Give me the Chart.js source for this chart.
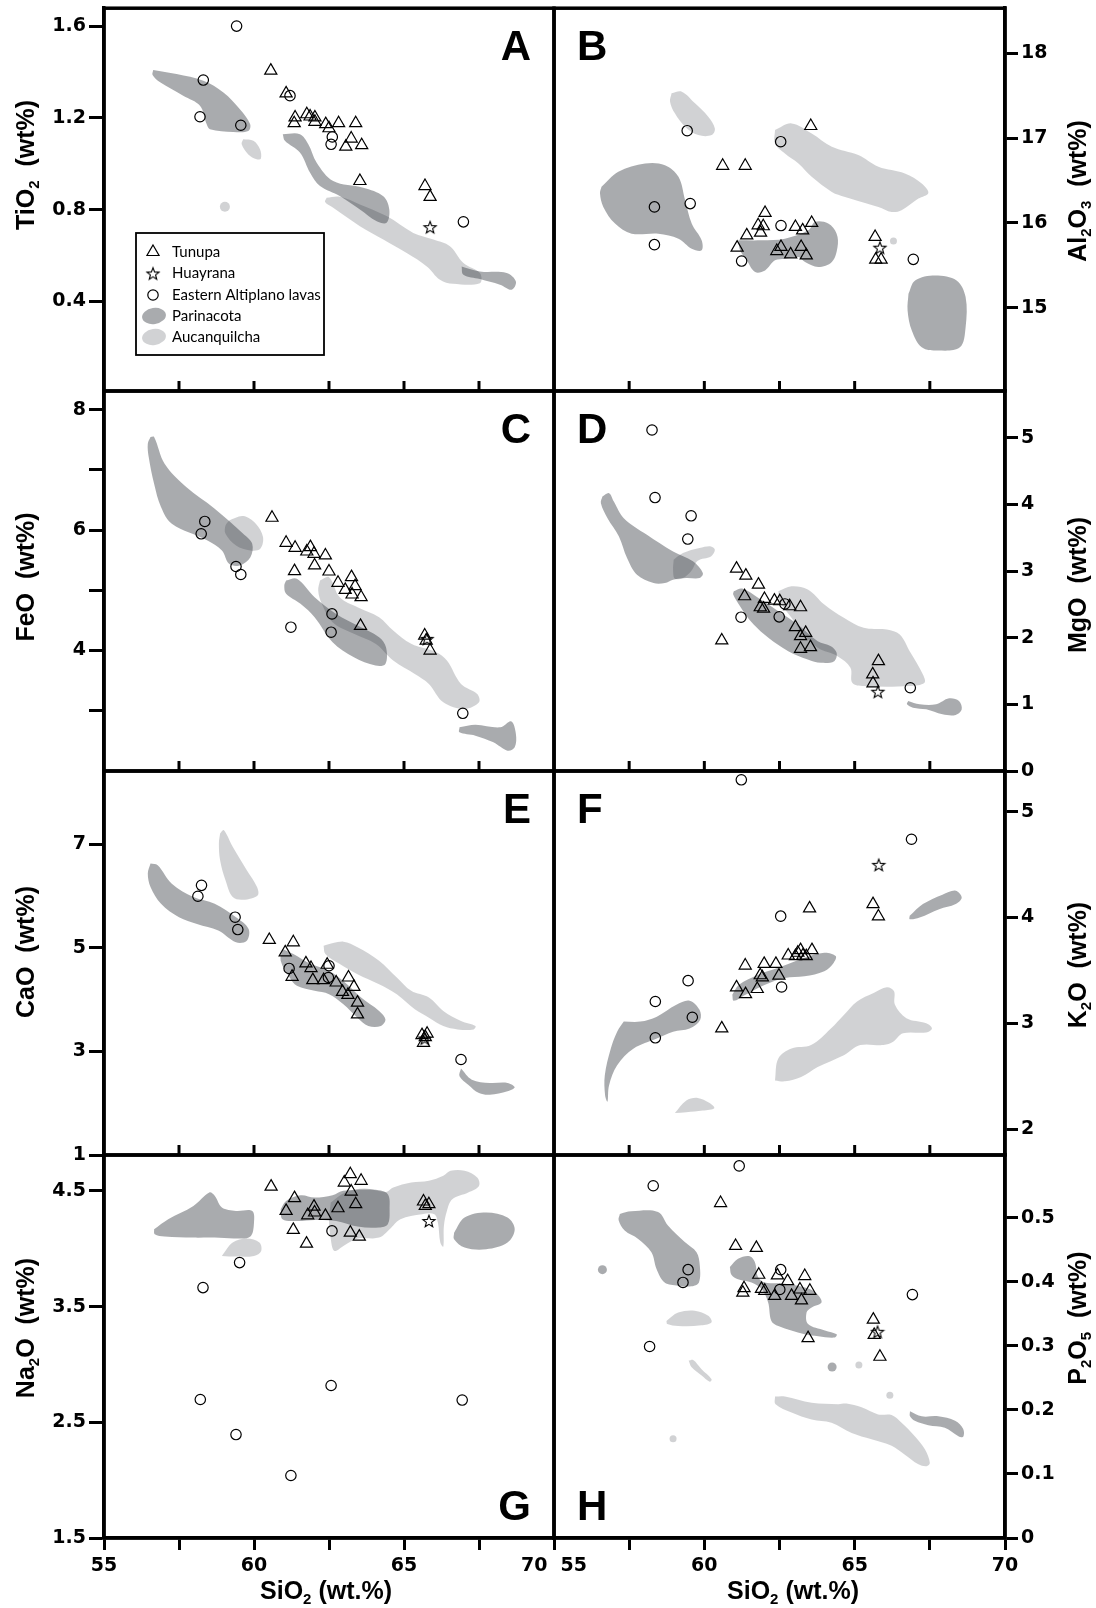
<!DOCTYPE html>
<html>
<head>
<meta charset="utf-8">
<title>SiO2 variation diagrams</title>
<script src="https://cdn.jsdelivr.net/npm/chart.js@4.4.1/dist/chart.umd.min.js"></script>
<style>
  body { margin: 0; background: #fff; }
  #wrap { position: relative; width: 1096px; height: 1608px; overflow: hidden; }
  #wrap canvas { position: absolute; left: 0; top: 0; }
</style>
</head>
<body>
<div id="wrap">
  <canvas id="panelA" width="1096" height="1608"></canvas>
  <canvas id="panelB" width="1096" height="1608"></canvas>
  <canvas id="panelC" width="1096" height="1608"></canvas>
  <canvas id="panelD" width="1096" height="1608"></canvas>
  <canvas id="panelE" width="1096" height="1608"></canvas>
  <canvas id="panelF" width="1096" height="1608"></canvas>
  <canvas id="panelG" width="1096" height="1608"></canvas>
  <canvas id="panelH" width="1096" height="1608"></canvas>
</div>
<script>
// ---- data: [SiO2, oxide] pairs ----
const xTicks = [55, 57.5, 60, 62.5, 65, 67.5, 70];
const xLabels = ['55', '', '60', '', '65', '', '70'];
const innerTicks = [57.5, 60, 62.5, 65, 67.5];
const legendNames = ['Tunupa', 'Huayrana', 'Eastern Altiplano lavas', 'Parinacota', 'Aucanquilcha'];

// A - TiO2
const ticksA = [0.4, 0.8, 1.2, 1.6];
const labelsA = ['0.4', '0.8', '1.2', '1.6'];
const tunupaA = [[60.56,1.406],[61.07,1.307],[61.37,1.202],[61.34,1.177],[61.76,1.216],[61.87,1.206],[62.03,1.202],[62.03,1.183],[62.39,1.173],[62.5,1.155],[62.82,1.177],[63.39,1.177],[63.24,1.11],[63.06,1.075],[63.59,1.081],[63.53,0.925],[65.7,0.903],[65.87,0.856]];
const huayranaA = [[65.87,0.724]];
const easternA = [[59.42,1.6],[58.31,1.365],[58.2,1.205],[59.56,1.168],[61.2,1.297],[62.61,1.117],[62.57,1.085],[66.98,0.747]];
const parinacotaA = [
  [[56.64,1.409],[57.42,1.391],[58.31,1.362],[58.98,1.311],[59.53,1.238],[59.87,1.173],[59.81,1.143],[59.31,1.139],[58.53,1.151],[58.42,1.173],[58.2,1.253],[57.64,1.297],[56.87,1.355],[56.62,1.387]],
  [[60.96,1.129],[61.53,1.129],[61.81,1.085],[62.09,1.005],[62.64,0.925],[63.64,0.896],[64.31,0.859],[64.51,0.801],[64.42,0.743],[64.09,0.75],[63.53,0.801],[62.87,0.859],[62.2,0.903],[61.87,0.961],[61.53,1.049],[61.03,1.1]],
  [[66.92,0.553],[67.53,0.531],[68.42,0.524],[68.73,0.487],[68.59,0.451],[68.2,0.473],[67.53,0.498],[66.98,0.517]]
];
const aucanquilchaA = [
  [[59.64,1.107],[59.98,1.1],[60.2,1.063],[60.23,1.023],[60.09,1.02],[59.81,1.041],[59.59,1.085]],
  [[62.42,0.852],[62.87,0.856],[63.53,0.823],[64.42,0.772],[65.31,0.699],[65.98,0.67],[66.53,0.641],[66.98,0.568],[67.53,0.524],[67.53,0.48],[66.64,0.477],[66.2,0.495],[65.76,0.553],[65.09,0.611],[64.31,0.67],[63.53,0.728],[62.64,0.808],[62.37,0.833]]
];
const lightDotsA = [[59.03,0.813]];

// B - Al2O3
const ticksB = [15, 16, 17, 18];
const labelsB = ['15', '16', '17', '18'];
const tunupaB = [[63.54,17.142],[60.61,16.673],[61.36,16.673],[62.02,16.118],[61.79,15.972],[61.96,15.961],[61.87,15.886],[61.41,15.854],[61.09,15.709],[63.03,15.953],[63.27,15.913],[63.57,16.0],[62.41,15.669],[62.55,15.717],[62.87,15.63],[63.22,15.717],[63.39,15.618],[65.68,15.835],[65.7,15.567],[65.88,15.567]];
const huayranaB = [[65.84,15.709]];
const easternB = [[59.43,17.087],[62.54,16.957],[58.34,16.189],[59.53,16.228],[58.34,15.744],[61.24,15.551],[62.55,15.969],[66.95,15.571]];
const parinacotaB = [
  [[56.58,16.425],[57.14,16.602],[58.03,16.701],[58.69,16.681],[59.14,16.543],[59.36,16.268],[59.58,15.992],[59.91,15.795],[59.91,15.677],[59.58,15.697],[59.14,15.815],[58.47,15.874],[57.58,15.874],[57.03,15.992],[56.64,16.189],[56.53,16.346]],
  [[61.13,15.795],[61.91,15.795],[62.68,15.815],[63.46,15.913],[63.68,16.012],[64.12,15.992],[64.4,15.874],[64.43,15.717],[64.24,15.539],[63.79,15.48],[63.35,15.539],[63.13,15.598],[62.68,15.579],[62.35,15.559],[62.02,15.441],[61.69,15.421],[61.41,15.559],[61.19,15.677]],
  [[66.79,15.165],[67.01,15.323],[67.68,15.382],[68.39,15.323],[68.69,15.126],[68.69,14.772],[68.5,14.535],[67.78,14.496],[67.23,14.535],[66.9,14.732],[66.76,14.969]]
];
const aucanquilchaB = [
  [[58.91,17.528],[59.25,17.547],[59.69,17.409],[60.13,17.252],[60.35,17.114],[60.24,17.035],[59.8,17.035],[59.36,17.134],[59.02,17.291],[58.86,17.429]],
  [[62.35,17.094],[62.9,17.173],[63.57,17.055],[64.24,16.898],[65.12,16.799],[65.79,16.661],[66.67,16.583],[67.23,16.465],[67.45,16.354],[67.12,16.287],[66.56,16.15],[66.23,16.13],[65.79,16.189],[65.23,16.248],[64.68,16.307],[64.24,16.366],[63.57,16.543],[63.13,16.701],[62.68,16.819],[62.35,16.937]]
];
const lightDotsB = [[66.29,15.787]];

// C - FeO
const ticksC = [3, 4, 5, 6, 7, 8];
const labelsC = ['', '4', '', '6', '', '8'];
const tunupaC = [[60.6,6.205],[61.07,5.789],[61.37,5.706],[61.88,5.717],[61.76,5.645],[62.0,5.607],[62.38,5.579],[62.02,5.413],[61.35,5.319],[62.5,5.313],[62.8,5.125],[63.25,5.219],[63.04,5.008],[63.37,5.069],[63.27,4.931],[63.57,4.886],[63.55,4.41],[65.69,4.249],[65.74,4.166],[65.87,4.0]];
const huayranaC = [[65.77,4.194]];
const easternC = [[58.36,6.144],[58.24,5.939],[59.4,5.396],[59.56,5.263],[61.23,4.388],[62.6,4.609],[62.57,4.305],[66.96,2.958]];
const parinacotaC = [
  [[56.55,7.546],[56.67,7.546],[57.02,7.102],[57.74,6.715],[58.69,6.355],[59.64,5.939],[59.94,5.773],[59.88,5.551],[59.52,5.413],[59.17,5.44],[58.93,5.662],[58.45,5.828],[57.26,6.105],[56.9,6.382],[56.67,6.77],[56.49,7.213],[56.46,7.435]],
  [[61.07,5.163],[61.43,5.191],[62.02,4.886],[62.74,4.609],[63.45,4.416],[64.17,4.222],[64.4,4.055],[64.38,3.778],[64.05,3.751],[63.33,3.889],[62.62,4.139],[62.02,4.554],[61.55,4.776],[61.07,4.942],[61.01,5.08]],
  [[66.85,2.726],[67.38,2.77],[68.21,2.726],[68.57,2.825],[68.73,2.615],[68.69,2.393],[68.45,2.338],[67.98,2.476],[67.38,2.587],[66.85,2.643]]
];
const aucanquilchaC = [
  [[59.17,6.161],[59.64,6.233],[60.06,6.105],[60.3,5.884],[60.21,5.69],[59.88,5.662],[59.4,5.745],[59.05,5.939],[59.05,6.078]],
  [[62.2,5.163],[62.5,5.219],[62.86,4.886],[63.45,4.72],[64.17,4.554],[64.64,4.332],[65.24,4.111],[66.07,3.972],[66.43,3.834],[66.9,3.446],[67.44,3.28],[67.5,3.141],[67.02,3.031],[66.31,3.141],[65.83,3.446],[65.36,3.612],[64.64,3.834],[64.05,4.111],[63.33,4.277],[62.62,4.471],[62.26,4.776],[62.14,4.997]]
];

// D - MgO
const ticksD = [0, 1, 2, 3, 4, 5];
const labelsD = ['0', '1', '2', '3', '4', '5'];
const tunupaD = [[61.07,3.035],[61.38,2.93],[61.8,2.796],[61.34,2.621],[62.0,2.581],[62.33,2.556],[62.51,2.546],[61.86,2.456],[61.97,2.436],[62.84,2.471],[63.2,2.456],[63.03,2.157],[63.37,2.072],[63.2,2.022],[63.53,1.858],[63.2,1.833],[60.58,1.958],[65.79,1.648],[65.6,1.449],[65.61,1.314]];
const huayranaD = [[65.77,1.189]];
const easternD = [[58.26,5.115],[58.36,4.102],[59.56,3.828],[59.45,3.479],[61.22,2.307],[62.68,2.506],[62.49,2.312],[66.85,1.249]];
const parinacotaD = [
  [[56.61,4.117],[56.83,4.167],[56.99,4.042],[57.32,3.793],[58.09,3.544],[58.96,3.294],[59.62,3.145],[59.95,2.97],[59.84,2.895],[59.4,2.895],[58.96,2.87],[58.69,2.82],[58.31,2.82],[57.76,2.945],[57.43,3.195],[57.16,3.519],[56.78,3.793],[56.56,4.017]],
  [[60.98,2.696],[61.26,2.736],[61.8,2.596],[62.46,2.397],[63.11,2.197],[63.77,1.948],[64.21,1.873],[64.4,1.773],[64.32,1.648],[63.88,1.623],[63.44,1.673],[62.79,1.798],[62.13,1.998],[61.64,2.197],[61.37,2.347],[61.15,2.496],[60.96,2.646]],
  [[66.78,1.05],[67.16,1.0],[67.71,1.0],[68.14,1.09],[68.47,1.05],[68.56,0.925],[68.36,0.84],[67.92,0.85],[67.38,0.925],[66.94,0.95],[66.74,1.0]]
];
const aucanquilchaD = [
  [[58.98,3.17],[59.29,3.269],[59.84,3.344],[60.22,3.369],[60.35,3.319],[60.22,3.219],[59.78,3.155],[59.56,2.995],[59.29,2.895],[59.02,2.885],[58.96,3.02]],
  [[62.46,2.696],[62.9,2.771],[63.44,2.721],[63.99,2.496],[64.64,2.297],[65.3,2.147],[66.07,2.122],[66.5,2.047],[66.83,1.798],[67.27,1.449],[67.32,1.324],[66.83,1.274],[65.3,1.274],[64.92,1.324],[64.86,1.549],[64.43,1.723],[63.77,1.848],[63.22,2.097],[62.9,2.297],[62.51,2.546]]
];

// E - CaO
const ticksE = [1, 3, 5, 7];
const labelsE = ['1', '3', '5', '7'];
const tunupaE = [[60.51,5.155],[61.31,5.11],[61.04,4.916],[61.73,4.702],[61.9,4.612],[61.27,4.443],[61.96,4.379],[62.32,4.379],[62.44,4.676],[62.74,4.333],[63.15,4.43],[62.95,4.152],[63.13,4.094],[63.33,4.249],[63.45,3.945],[63.45,3.718],[65.6,3.317],[65.71,3.278],[65.65,3.168],[65.77,3.343]];
const huayranaE = [[65.69,3.252]];
const easternE = [[58.25,6.21],[58.13,6.0],[59.37,5.595],[59.46,5.356],[61.17,4.605],[62.5,4.657],[62.48,4.43],[66.9,2.845]];
const parinacotaE = [
  [[56.55,6.631],[56.79,6.599],[57.26,6.243],[57.98,5.984],[58.69,5.854],[59.4,5.595],[59.82,5.369],[59.76,5.142],[59.4,5.11],[58.81,5.337],[58.1,5.466],[57.5,5.595],[56.9,5.854],[56.55,6.178],[56.46,6.437]],
  [[60.95,4.981],[61.31,4.883],[61.9,4.689],[62.5,4.56],[63.1,4.301],[63.57,4.042],[64.17,3.783],[64.38,3.621],[64.23,3.492],[63.81,3.492],[63.45,3.654],[62.98,3.913],[62.5,4.107],[62.02,4.172],[61.43,4.269],[61.19,4.43],[60.89,4.754]],
  [[66.9,2.67],[67.26,2.456],[67.86,2.392],[68.45,2.392],[68.69,2.307],[68.45,2.23],[67.86,2.165],[67.5,2.197],[67.14,2.359],[66.85,2.521]]
];
const aucanquilchaE = [
  [[58.87,7.214],[58.99,7.278],[59.29,6.955],[59.76,6.502],[60.1,6.178],[60.12,6.016],[59.64,5.932],[59.29,5.984],[59.05,6.307],[58.87,6.696],[58.83,7.019]],
  [[62.32,5.045],[62.98,5.123],[63.45,5.013],[64.17,4.754],[64.76,4.43],[65.24,4.172],[65.83,4.042],[66.31,3.783],[66.9,3.589],[67.38,3.492],[67.32,3.427],[66.79,3.427],[66.31,3.492],[65.83,3.654],[65.36,3.816],[64.76,4.107],[64.17,4.301],[63.45,4.495],[62.86,4.689],[62.38,4.883]]
];

// F - K2O
const ticksF = [2, 3, 4, 5];
const labelsF = ['2', '3', '4', '5'];
const tunupaF = [[63.5,4.086],[65.61,4.127],[65.79,4.01],[61.36,3.546],[61.99,3.562],[62.38,3.562],[61.86,3.454],[61.93,3.435],[62.48,3.451],[61.07,3.34],[61.37,3.276],[61.76,3.324],[62.79,3.641],[63.03,3.635],[63.2,3.692],[63.28,3.641],[63.39,3.635],[63.58,3.692],[60.58,2.952],[63.11,3.667]];
const huayranaF = [[65.8,4.498]];
const easternF = [[61.23,5.302],[66.89,4.74],[62.54,4.013],[59.46,3.403],[58.37,3.206],[59.6,3.057],[58.37,2.863],[62.57,3.343]];
const parinacotaF = [
  [[57.32,3.016],[57.87,3.016],[58.42,3.063],[59.07,3.175],[59.51,3.213],[59.84,3.127],[59.86,3.032],[59.51,2.952],[58.96,2.921],[58.42,2.857],[57.65,2.762],[57.1,2.603],[56.83,2.413],[56.78,2.26],[56.7,2.317],[56.69,2.508],[56.89,2.762],[57.1,2.921]],
  [[60.93,3.27],[61.15,3.365],[61.8,3.46],[62.46,3.524],[63.33,3.619],[63.99,3.667],[64.37,3.635],[64.3,3.571],[63.99,3.492],[63.33,3.444],[62.68,3.429],[62.02,3.365],[61.37,3.27],[60.98,3.213]],
  [[66.83,4.016],[67.27,4.127],[67.92,4.216],[68.36,4.254],[68.56,4.19],[68.36,4.127],[67.81,4.079],[67.16,4.0],[66.83,3.984]]
];
const aucanquilchaF = [
  [[62.35,2.46],[62.46,2.667],[62.9,2.762],[63.55,2.794],[64.21,2.952],[64.64,3.079],[65.08,3.206],[65.63,3.286],[66.07,3.34],[66.31,3.302],[66.34,3.175],[66.72,3.048],[67.38,3.0],[67.57,2.952],[67.38,2.914],[66.61,2.905],[66.28,2.825],[65.96,2.794],[65.19,2.794],[64.64,2.698],[63.77,2.587],[63.22,2.492],[62.68,2.451]],
  [[59.02,2.152],[59.4,2.27],[59.78,2.295],[60.16,2.248],[60.33,2.197],[59.95,2.175],[59.4,2.159]]
];

// G - Na2O
const ticksG = [1.5, 2.5, 3.5, 4.5];
const labelsG = ['1.5', '2.5', '3.5', '4.5'];
const tunupaG = [[60.57,4.537],[63.21,4.644],[63.01,4.572],[63.57,4.587],[63.24,4.494],[63.39,4.385],[62.8,4.35],[61.35,4.437],[61.07,4.327],[62.0,4.364],[61.79,4.289],[62.02,4.313],[62.38,4.284],[61.31,4.163],[61.75,4.044],[63.21,4.139],[63.51,4.105],[65.65,4.408],[65.71,4.37],[65.83,4.385]];
const huayranaG = [[65.83,4.24]];
const easternG = [[62.6,4.154],[59.52,3.88],[58.3,3.664],[58.21,2.697],[62.57,2.818],[66.94,2.692],[59.4,2.394],[61.23,2.04]];
const parinacotaG = [
  [[56.67,4.168],[57.14,4.255],[57.98,4.37],[58.51,4.486],[58.69,4.457],[58.93,4.356],[59.4,4.327],[59.94,4.327],[60.0,4.226],[59.88,4.105],[59.4,4.088],[58.69,4.096],[57.98,4.096],[57.02,4.105],[56.69,4.125]],
  [[60.89,4.341],[61.07,4.413],[61.55,4.462],[62.02,4.442],[62.62,4.462],[62.98,4.5],[64.05,4.509],[64.46,4.471],[64.52,4.341],[64.46,4.212],[64.17,4.183],[63.45,4.191],[62.74,4.24],[62.02,4.249],[61.43,4.24],[60.95,4.255]],
  [[66.67,4.139],[67.02,4.269],[67.74,4.313],[68.45,4.269],[68.69,4.168],[68.45,4.053],[67.74,3.995],[67.02,4.01],[66.67,4.082]]
];
const aucanquilchaG = [
  [[58.93,3.938],[59.29,4.053],[59.76,4.088],[60.18,4.053],[60.24,3.981],[60.0,3.938],[59.4,3.932]],
  [[62.56,4.399],[63.04,4.486],[63.69,4.52],[64.4,4.491],[64.64,4.529],[65.24,4.572],[65.83,4.587],[66.31,4.63],[66.55,4.673],[67.02,4.673],[67.44,4.615],[67.5,4.543],[67.14,4.486],[66.61,4.428],[66.43,4.327],[66.33,4.197],[66.31,4.018],[66.21,4.053],[66.13,4.226],[66.01,4.298],[65.6,4.298],[64.88,4.255],[64.52,4.168],[64.17,4.096],[63.45,4.088],[62.98,4.024],[62.68,3.981],[62.56,4.082],[62.5,4.255]]
];

// H - P2O5
const ticksH = [0, 0.1, 0.2, 0.3, 0.4, 0.5];
const labelsH = ['0', '0.1', '0.2', '0.3', '0.4', '0.5'];
const tunupaH = [[60.54,0.523],[61.04,0.456],[61.73,0.453],[61.81,0.411],[62.43,0.41],[62.77,0.401],[63.34,0.409],[61.32,0.39],[61.28,0.383],[61.9,0.389],[62.01,0.386],[62.34,0.378],[62.9,0.378],[63.18,0.388],[63.51,0.386],[63.23,0.371],[63.45,0.312],[65.62,0.341],[65.65,0.317],[65.84,0.283]];
const huayranaH = [[65.76,0.322]];
const easternH = [[61.16,0.581],[58.3,0.55],[62.54,0.419],[59.46,0.419],[59.29,0.399],[62.51,0.388],[58.18,0.299],[66.92,0.38]];
const parinacotaH = [
  [[57.19,0.506],[57.57,0.51],[58.46,0.509],[58.79,0.488],[59.35,0.462],[59.74,0.446],[59.85,0.425],[59.82,0.399],[59.57,0.393],[59.13,0.394],[58.68,0.399],[58.41,0.42],[58.24,0.446],[57.8,0.467],[57.35,0.48],[57.15,0.496]],
  [[60.85,0.423],[61.12,0.436],[61.51,0.44],[61.68,0.431],[61.79,0.407],[62.01,0.399],[62.68,0.397],[63.34,0.391],[63.68,0.384],[63.9,0.368],[63.57,0.36],[63.4,0.352],[63.45,0.334],[64.01,0.324],[64.4,0.318],[64.34,0.313],[63.79,0.315],[63.34,0.318],[62.46,0.331],[62.23,0.339],[62.12,0.368],[61.9,0.389],[61.57,0.399],[61.12,0.404],[60.9,0.411]],
  [[66.84,0.198],[67.23,0.19],[67.78,0.19],[68.34,0.183],[68.61,0.17],[68.61,0.158],[68.45,0.159],[68.0,0.172],[67.45,0.176],[67.0,0.183],[66.84,0.19]]
];
const aucanquilchaH = [
  [[58.74,0.339],[59.13,0.352],[59.68,0.355],[60.13,0.347],[60.24,0.337],[59.9,0.332],[59.13,0.331],[58.77,0.334]],
  [[59.48,0.277],[59.63,0.278],[59.9,0.264],[60.24,0.248],[60.18,0.244],[59.9,0.254],[59.57,0.267]],
  [[62.35,0.221],[62.68,0.221],[63.57,0.211],[64.45,0.209],[64.73,0.21],[65.23,0.204],[65.78,0.193],[66.23,0.192],[66.56,0.18],[67.0,0.159],[67.34,0.138],[67.5,0.117],[67.39,0.112],[67.12,0.115],[66.67,0.13],[66.23,0.144],[65.56,0.154],[64.9,0.164],[64.23,0.18],[63.57,0.185],[62.9,0.196],[62.37,0.209]]
];
const darkDotsH = [[56.61,0.419],[64.25,0.267]];
const lightDotsH = [[58.96,0.155],[65.14,0.27],[66.17,0.223]];

// axis titles: [text, isSubscript]
const titleA = [['TiO', 0], ['2', 1], ['  (wt%)', 0]];
const titleB = [['Al', 0], ['2', 1], ['O', 0], ['3', 1], ['  (wt%)', 0]];
const titleC = [['FeO  (wt%)', 0]];
const titleD = [['MgO  (wt%)', 0]];
const titleE = [['CaO  (wt%)', 0]];
const titleF = [['K', 0], ['2', 1], ['O  (wt%)', 0]];
const titleG = [['Na', 0], ['2', 1], ['O  (wt%)', 0]];
const titleH = [['P', 0], ['2', 1], ['O', 0], ['5', 1], ['  (wt%)', 0]];
const titleSiO2 = [['SiO', 0], ['2', 1], [' (wt.%)', 0]];

// ---- styling ----
const FONT = "'Liberation Sans', Arial, Helvetica, sans-serif";
const TICK_FONT = {family: "'DejaVu Sans', sans-serif", size: 19, weight: 'bold'};
const DARK = 'rgba(40,44,52,0.40)';
const LIGHT = 'rgba(40,44,52,0.21)';
const rowTop = [8, 391, 771, 1155, 1538];
const GAP = '\u2007\u2007\u2007';   // pushes the 70 | 55 labels apart at the column join

const xy = arr => arr.map(p => ({x: p[0], y: p[1]}));

// open five-point star for Huayrana
const star = document.createElement('canvas');
star.width = 16;
star.height = 16;
(function () {
  const c = star.getContext('2d');
  c.beginPath();
  for (let i = 0; i < 10; i++) {
    const r = i % 2 ? 2.7 : 6.4;
    const a = -Math.PI / 2 + i * Math.PI / 5;
    c.lineTo(8 + r * Math.cos(a), 8.6 + r * Math.sin(a));
  }
  c.closePath();
  c.lineWidth = 1.1;
  c.strokeStyle = '#000';
  c.stroke();
})();

function region(poly, color) {
  return {
    data: xy(poly.concat([poly[0]])),
    showLine: true,
    fill: 'shape',
    tension: 0.35,
    backgroundColor: color,
    borderColor: 'rgba(0,0,0,0)',
    borderWidth: 0,
    pointRadius: 0,
    order: 2
  };
}

function dots(list, color, r) {
  return {
    data: xy(list), showLine: false, order: 1,
    pointRadius: r, pointBorderWidth: 0,
    pointBackgroundColor: color, pointBorderColor: 'rgba(0,0,0,0)'
  };
}

function datasets(p) {
  const out = [
    {label: 'Tunupa', data: xy(p.tunupa), showLine: false, order: 0,
     pointStyle: 'triangle', pointRadius: 7, pointBorderWidth: 1.2,
     pointBorderColor: '#000', pointBackgroundColor: 'rgba(0,0,0,0)'},
    {label: 'Huayrana', data: xy(p.huayrana), showLine: false, order: 0,
     pointStyle: star, pointRadius: 6},
    {label: 'Eastern Altiplano lavas', data: xy(p.eastern), showLine: false, order: 0,
     pointStyle: 'circle', pointRadius: 5.2, pointBorderWidth: 1.2,
     pointBorderColor: '#000', pointBackgroundColor: 'rgba(0,0,0,0)'}
  ];
  p.parinacota.forEach(poly => out.push(region(poly, DARK)));
  p.aucanquilcha.forEach(poly => out.push(region(poly, LIGHT)));
  if (p.darkDots) out.push(dots(p.darkDots, DARK, 4.5));
  if (p.lightDots) out.push(dots(p.lightDots, LIGHT, p.dotSize || 3.5));
  return out;
}

function drawChem(ctx, parts, cx, cy, rot) {
  const fontOf = sub => 'bold ' + (sub ? 15 : 25) + 'px ' + FONT;
  ctx.save();
  ctx.translate(cx, cy);
  ctx.rotate(rot);
  let w = 0;
  parts.forEach(([t, sub]) => { ctx.font = fontOf(sub); w += ctx.measureText(t).width; });
  let x = -w / 2;
  ctx.fillStyle = '#000';
  ctx.textAlign = 'left';
  ctx.textBaseline = 'alphabetic';
  parts.forEach(([t, sub]) => {
    ctx.font = fontOf(sub);
    ctx.fillText(t, x, sub ? 14 : 9);
    x += ctx.measureText(t).width;
  });
  ctx.restore();
}

function drawLegend(ctx) {
  const rows = [252, 273.5, 295, 316, 337];
  ctx.save();
  ctx.strokeStyle = '#000';
  ctx.lineWidth = 1.8;
  ctx.strokeRect(136, 233, 188, 122);
  ctx.lineWidth = 1.2;
  ctx.beginPath();
  ctx.moveTo(153, rows[0] - 7);
  ctx.lineTo(159.06, rows[0] + 3.5);
  ctx.lineTo(146.94, rows[0] + 3.5);
  ctx.closePath();
  ctx.stroke();
  ctx.drawImage(star, 145, rows[1] - 8);
  ctx.beginPath();
  ctx.arc(153, rows[2], 5.2, 0, Math.PI * 2);
  ctx.stroke();
  ctx.fillStyle = DARK;
  ctx.beginPath();
  ctx.ellipse(154, rows[3], 12, 8, -0.15, 0, Math.PI * 2);
  ctx.fill();
  ctx.fillStyle = LIGHT;
  ctx.beginPath();
  ctx.ellipse(154, rows[4], 12, 8, -0.15, 0, Math.PI * 2);
  ctx.fill();
  ctx.fillStyle = '#000';
  ctx.font = "15px Lato, 'Noto Sans', sans-serif";
  ctx.textAlign = 'left';
  ctx.textBaseline = 'middle';
  legendNames.forEach((n, i) => ctx.fillText(n, 172, rows[i]));
  ctx.restore();
}

function decor(p) {
  const left = p.col === 0;
  return {
    id: 'decor',
    afterDraw(chart) {
      const {ctx, chartArea: a, scales} = chart;
      ctx.save();
      ctx.strokeStyle = '#000';
      if (p.row < 3) {
        // short ticks pointing into the panel from its lower edge
        ctx.lineWidth = 3;
        innerTicks.forEach(v => {
          const x = scales.x.getPixelForValue(v);
          ctx.beginPath();
          ctx.moveTo(x, a.bottom);
          ctx.lineTo(x, a.bottom - 10);
          ctx.stroke();
        });
      }
      ctx.lineWidth = 3.5;
      ctx.strokeRect(a.left, a.top, a.right - a.left, a.bottom - a.top);
      drawChem(ctx, p.title, left ? 25 : 1077, p.titleY, -Math.PI / 2);
      if (p.row === 3) drawChem(ctx, titleSiO2, left ? 326 : 793, 1590, 0);

      ctx.fillStyle = '#000';
      ctx.font = 'bold 42px ' + FONT;
      ctx.textBaseline = 'alphabetic';
      const topLetter = p.corner[0] === 't';
      const y = topLetter ? a.top + 52 : a.bottom - 18;
      if (p.corner[1] === 'r') {
        ctx.textAlign = 'right';
        ctx.fillText(p.letter, a.right - 23, y);
      } else {
        ctx.textAlign = 'left';
        ctx.fillText(p.letter, a.left + 23, y);
      }
      if (p.legend) drawLegend(ctx);
      ctx.restore();
    }
  };
}

function panel(p) {
  const left = p.col === 0;
  const last = p.row === 3;
  const top = rowTop[p.row];
  const bottom = rowTop[p.row + 1];
  const xScale = last ? {
    type: 'linear', min: 55, max: 70, position: 'bottom',
    afterBuildTicks: ax => { ax.ticks = xTicks.map(v => ({value: v})); },
    afterFit: ax => { ax.height = 70; ax.paddingLeft = 0; ax.paddingRight = 0; },
    border: {display: true, color: '#000', width: 3.5},
    grid: {display: true, drawOnChartArea: false, drawTicks: true, tickLength: 12, tickWidth: 3, tickColor: '#000'},
    ticks: {
      autoSkip: false, maxRotation: 0, padding: 5, color: '#000', font: TICK_FONT,
      callback: (v, i) => {
        const s = xLabels[i];
        if (left && i === xLabels.length - 1) return s + GAP;
        if (!left && i === 0) return GAP + s;
        return s;
      }
    }
  } : {type: 'linear', min: 55, max: 70, display: false};

  new Chart(document.getElementById(p.id), {
    type: 'line',
    data: {datasets: datasets(p)},
    options: {
      responsive: false,
      animation: false,
      devicePixelRatio: 1,
      events: [],
      layout: {padding: {
        left: left ? 0 : 554,
        right: left ? 1096 - 554 : 0,
        top: top,
        bottom: 1608 - bottom - (last ? 70 : 0)
      }},
      plugins: {legend: {display: false}, tooltip: {enabled: false}},
      scales: {
        x: xScale,
        y: {
          type: 'linear', position: left ? 'left' : 'right', min: p.min, max: p.max,
          afterBuildTicks: ax => { ax.ticks = p.ticks.map(v => ({value: v})); },
          afterFit: ax => { ax.width = left ? 104 : 91; ax.paddingTop = 0; ax.paddingBottom = 0; },
          border: {display: true, color: '#000', width: 3.5},
          grid: {display: true, drawOnChartArea: false, drawTicks: true, tickLength: left ? 15 : 13, tickWidth: 3, tickColor: '#000'},
          ticks: {autoSkip: false, padding: 3, color: '#000', font: TICK_FONT, callback: (v, i) => p.labels[i]}
        }
      }
    },
    plugins: [decor(p)]
  });
}

[
  {id: 'panelA', col: 0, row: 0, min: 0.01, max: 1.678, ticks: ticksA, labels: labelsA, title: titleA, titleY: 165,
   letter: 'A', corner: 'tr', legend: true, tunupa: tunupaA, huayrana: huayranaA, eastern: easternA,
   parinacota: parinacotaA, aucanquilcha: aucanquilchaA, lightDots: lightDotsA, dotSize: 5},
  {id: 'panelB', col: 1, row: 0, min: 14.02, max: 18.53, ticks: ticksB, labels: labelsB, title: titleB, titleY: 191,
   letter: 'B', corner: 'tl', tunupa: tunupaB, huayrana: huayranaB, eastern: easternB,
   parinacota: parinacotaB, aucanquilcha: aucanquilchaB, lightDots: lightDotsB},
  {id: 'panelC', col: 0, row: 1, min: 2.0, max: 8.31, ticks: ticksC, labels: labelsC, title: titleC, titleY: 577,
   letter: 'C', corner: 'tr', tunupa: tunupaC, huayrana: huayranaC, eastern: easternC,
   parinacota: parinacotaC, aucanquilcha: aucanquilchaC},
  {id: 'panelD', col: 1, row: 1, min: 0, max: 5.7, ticks: ticksD, labels: labelsD, title: titleD, titleY: 585,
   letter: 'D', corner: 'tl', tunupa: tunupaD, huayrana: huayranaD, eastern: easternD,
   parinacota: parinacotaD, aucanquilcha: aucanquilchaD},
  {id: 'panelE', col: 0, row: 2, min: 1, max: 8.42, ticks: ticksE, labels: labelsE, title: titleE, titleY: 952,
   letter: 'E', corner: 'tr', tunupa: tunupaE, huayrana: huayranaE, eastern: easternE,
   parinacota: parinacotaE, aucanquilcha: aucanquilchaE},
  {id: 'panelF', col: 1, row: 2, min: 1.755, max: 5.385, ticks: ticksF, labels: labelsF, title: titleF, titleY: 965,
   letter: 'F', corner: 'tl', tunupa: tunupaF, huayrana: huayranaF, eastern: easternF,
   parinacota: parinacotaF, aucanquilcha: aucanquilchaF},
  {id: 'panelG', col: 0, row: 3, min: 1.5, max: 4.81, ticks: ticksG, labels: labelsG, title: titleG, titleY: 1328,
   letter: 'G', corner: 'br', tunupa: tunupaG, huayrana: huayranaG, eastern: easternG,
   parinacota: parinacotaG, aucanquilcha: aucanquilchaG},
  {id: 'panelH', col: 1, row: 3, min: 0, max: 0.598, ticks: ticksH, labels: labelsH, title: titleH, titleY: 1318,
   letter: 'H', corner: 'bl', tunupa: tunupaH, huayrana: huayranaH, eastern: easternH,
   parinacota: parinacotaH, aucanquilcha: aucanquilchaH, darkDots: darkDotsH, lightDots: lightDotsH}
].forEach(panel);
</script>
</body>
</html>
